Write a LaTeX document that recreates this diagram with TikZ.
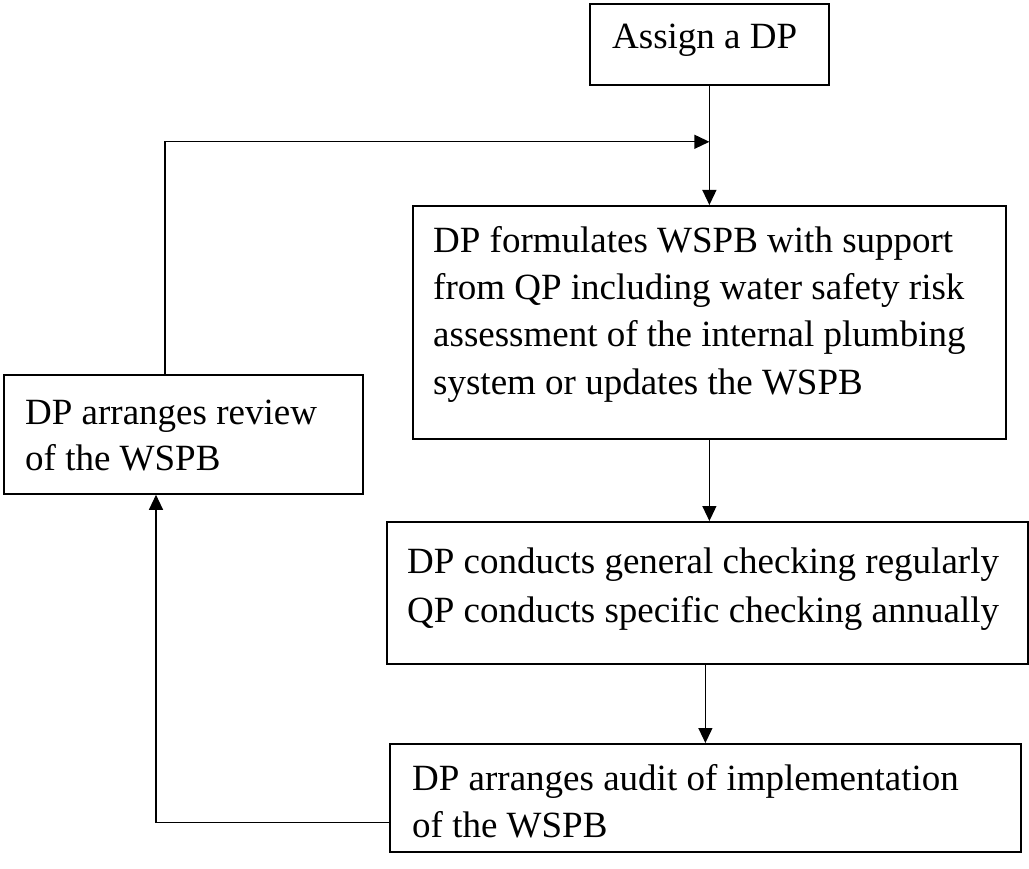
\documentclass[tikz,border=0pt]{standalone}
\usepackage{fontspec}
\setmainfont{Liberation Serif}
\usetikzlibrary{arrows.meta,calc}
\tikzset{
  box/.style={draw=black, line width=1.8pt, rectangle, anchor=north west, inner sep=0pt},
  txt/.style={anchor=base west, inner sep=0pt, font=\fontsize{37}{47}\selectfont},
  conn/.style={draw=black, line width=1.2pt},
  arr/.style={conn, -{Triangle[length=15pt,width=14pt]}}
}
\begin{document}
\begin{tikzpicture}[x=1pt,y=-1pt]
\useasboundingbox (0,0) rectangle (1029,869);
% boxes
\node[box, minimum width=239pt, minimum height=81pt] (A) at (589,3) {};
\node[box, minimum width=593pt, minimum height=233pt] (B) at (412,205) {};
\node[box, minimum width=359pt, minimum height=119pt] (R) at (3,374) {};
\node[box, minimum width=641pt, minimum height=142pt] (C) at (386,521) {};
\node[box, minimum width=631pt, minimum height=108pt] (D) at (389,743) {};
% texts
\node[txt] (a1) at (612,49) {Assign a DP};
\node[txt] (b1) at (433,253) {DP formulates WSPB with support};
\node[txt] (b2) at (433,300) {from QP including water safety risk};
\node[txt] (b3) at (433,347) {assessment of the internal plumbing};
\node[txt] (b4) at (433,394) {system or updates the WSPB};
\node[txt] (r1) at (25,424) {DP arranges review};
\node[txt] (r2) at (25,470) {of the WSPB};
\node[txt] (c1) at (407,573) {DP conducts general checking regularly};
\node[txt] (c2) at (407,622) {QP conducts specific checking annually};
\node[txt] (d1) at (412,790) {DP arranges audit of implementation};
\node[txt] (d2) at (412,837) {of the WSPB};
% connectors
\coordinate (m) at ($(A.south)+(0,56)$);
\draw[arr] (A.south) -- (B.north -| A.south);
\draw[arr] ($(R.north west)+(162,0)$) |- (m);
\draw[arr] (B.south) -- (B.south |- C.north);
\draw[arr] (D.north |- C.south) -- (D.north);
\draw[arr] ($(D.south west)+(0,-30)$) -| ($(R.south west)+(153,0)$);
\end{tikzpicture}
\end{document}
